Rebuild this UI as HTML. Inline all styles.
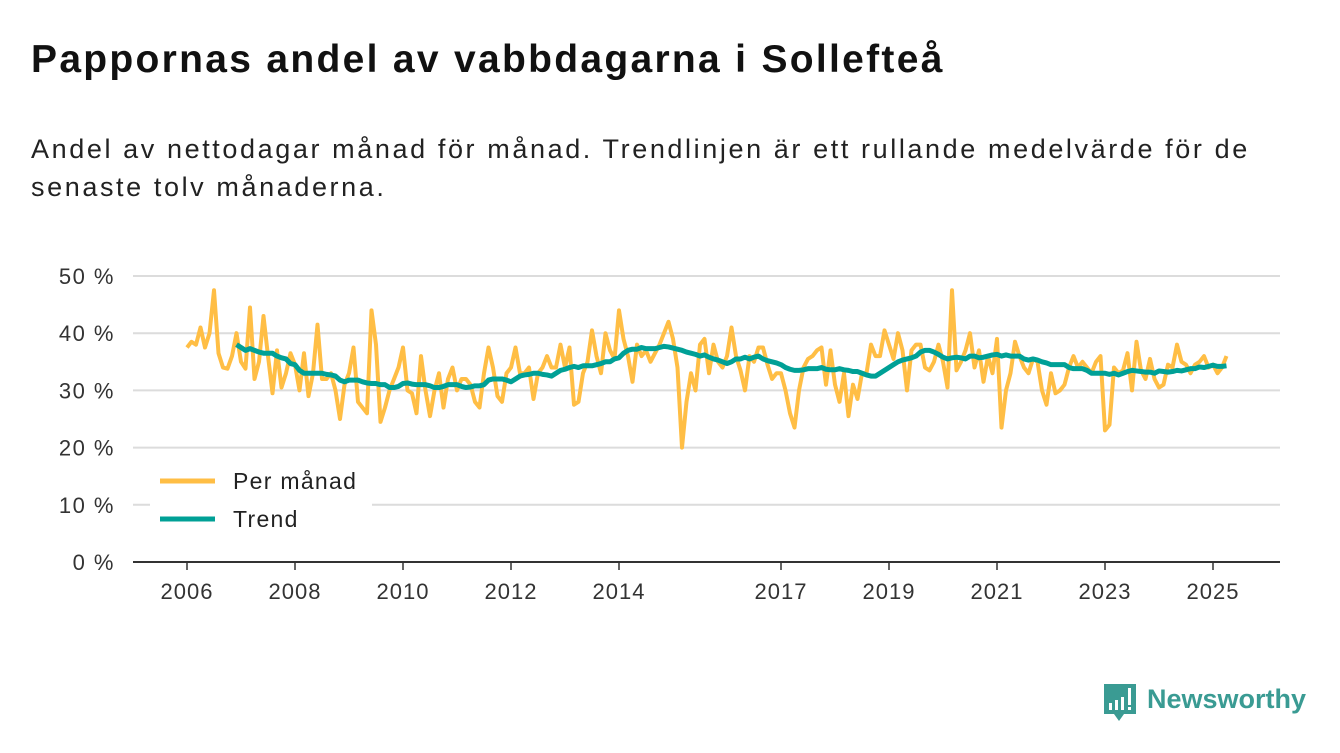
<!DOCTYPE html>
<html><head><meta charset="utf-8">
<style>
body{margin:0;width:1340px;height:753px;background:#fff;font-family:"Liberation Sans","DejaVu Sans",sans-serif;overflow:hidden;position:relative}
h1{position:absolute;left:31px;top:38px;margin:0;font-size:39px;letter-spacing:2.3px;font-weight:bold;color:#111;white-space:nowrap}
.sub{position:absolute;left:31px;top:130px;margin:0;font-size:27px;letter-spacing:2.6px;line-height:38px;color:#222;width:1260px}
svg{position:absolute;left:0;top:0}
</style></head><body>
<h1>Pappornas andel av vabbdagarna i Sollefteå</h1>
<p class="sub">Andel av nettodagar månad för månad. Trendlinjen är ett rullande medelvärde för de senaste tolv månaderna.</p>
<svg id="chart" width="1340" height="753"></svg>
<script>
const yTicks=[0,10,20,30,40,50];
const yTickLabels=["0 %","10 %","20 %","30 %","40 %","50 %"];
const xTickYears=[2006,2008,2010,2012,2014,2017,2019,2021,2023,2025];
const startYear=2006;
const monthly=[
37.5,38.5,38,41,37.5,40,47.5,36.5,34,33.8,36,40,
35,33.8,44.5,32,35,43,36,29.5,37,30.5,33,36.5,
34.5,30,36.5,29,33,41.5,32,32,33,30,25,31,
33,37.5,28,27,26,44,38,24.5,27,30,32,34,
37.5,30,29.5,26,36,30,25.5,30,33,27,32,34,
30,32,32,31,28,27,33,37.5,34,29,28,33,
34,37.5,33,33,34,28.5,33,34,36,34,34,38,
34,37.5,27.5,28,33,35,40.5,36,33,40,37,35.5,
44,39,36,31.5,38,36,37,35,36.5,38,40,42,
39,34,20,28,33,30,38,39,33,38,35,34,
36,41,36,33.5,30,36,35,37.5,37.5,34.5,32,33,
33,30,26,23.5,30,34,35.5,36,37,37.5,31,37,
31,28,33,25.5,31,28.5,33,33,38,36,36,40.5,
38,35.5,40,37,30,37,38,38,34,33.5,35,38,
35,30.5,47.5,33.5,35,37,40,34,37,31.5,36,33,
39,23.5,30,33,38.5,36,34,33,35.5,35,30,27.5,
33,29.5,30,31,34,36,34,35,34,33,35,36,
23,24,34,33,33.5,36.5,30,38.5,33.5,32,35.5,32,
30.5,31,34.5,34,38,35,34.5,33,34.5,35,36,34,
34.5,33,34,36];
const trendStartIndex=11;
const trend=[38,
37.5,37,37.3,37,36.7,36.5,36.5,36.5,36,35.7,35.5,34.7,
34.5,33.5,33,33,33,33,33,32.8,32.7,32.5,31.8,31.5,
31.8,31.8,31.8,31.5,31.3,31.2,31.2,31,31,30.5,30.5,30.7,
31.2,31.3,31.1,31,31,31,30.8,30.5,30.5,30.7,31,31,
31,30.7,30.5,30.6,30.8,30.8,31,31.8,32,32,32,31.8,
31.5,32,32.5,32.7,32.8,33,33,32.8,32.7,32.5,33,33.5,
33.7,34,34.2,34,34.3,34.3,34.3,34.5,34.7,35,35,35.5,
35.7,36.5,37,37.2,37.2,37.5,37.3,37.3,37.3,37.5,37.7,37.6,
37.4,37.2,37,36.7,36.5,36.3,36,36.2,35.8,35.5,35.3,35,
34.7,35,35.5,35.5,35.8,35.5,35.8,36,35.5,35.2,35,34.8,
34.5,34,33.7,33.5,33.5,33.6,33.8,33.8,33.8,34,33.7,33.6,
33.6,33.8,33.6,33.5,33.3,33.3,33,32.7,32.5,32.5,33,33.5,
34,34.5,35,35.3,35.5,35.7,36,36.7,37,37,36.7,36.3,
35.8,35.5,35.7,35.8,35.7,35.5,36,36,35.7,35.8,36,36.2,
36.3,36,36.2,36,36,36,35.5,35.3,35.5,35.3,35,34.8,
34.5,34.5,34.5,34.5,34,33.8,33.8,33.8,33.5,33,33,33,
33,32.8,33,32.7,33,33.3,33.5,33.4,33.3,33.2,33.2,33,
33.4,33.3,33.2,33.3,33.5,33.4,33.6,33.8,33.8,34.1,34,34.2,
34.4,34.2,34.2,34.3];

const NS="http://www.w3.org/2000/svg";
const svg=document.getElementById('chart');
const x=i=>187+i*4.5;
const xYear=yr=>x((yr-startYear)*12);
const y=v=>562-v*5.72;
function mk(t,a,p){const e=document.createElementNS(NS,t);for(const k in a)e.setAttribute(k,a[k]);(p||svg).appendChild(e);return e;}

yTicks.forEach((t,i)=>{
  if(t>0){const g=mk('line',{x1:133,x2:1280,y1:y(t),y2:y(t),stroke:'#dcdcdc','stroke-width':2});
  
  }
  const l=mk('text',{x:115,y:y(t)+8,'text-anchor':'end','font-size':22,'letter-spacing':1.5,fill:'#333'});
  l.textContent=yTickLabels[i];
  
  
});
const ax=mk('line',{x1:133,x2:1280,y1:562,y2:562,stroke:'#333','stroke-width':2});


xTickYears.forEach(yr=>{
  const tk=mk('line',{x1:xYear(yr),x2:xYear(yr),y1:562,y2:570,stroke:'#333','stroke-width':1.5});
  
  
  const l=mk('text',{x:xYear(yr),y:599,'text-anchor':'middle','font-size':22,'letter-spacing':1,fill:'#333'});
  l.textContent=yr;
  
  
});
const pm=mk('polyline',{points:monthly.map((v,i)=>x(i)+','+y(v)).join(' '),fill:'none',stroke:'#ffbe45','stroke-width':4,'stroke-linejoin':'round'});


const tr=mk('polyline',{points:trend.map((v,i)=>x(i+trendStartIndex)+','+y(v)).join(' '),fill:'none',stroke:'#00a096','stroke-width':5,'stroke-linejoin':'round'});



const lg=mk('g',{});


mk('rect',{x:150,y:462,width:222,height:76,fill:'#fff'},lg);
[['Per månad','#ffbe45',481],['Trend','#00a096',519]].forEach(([n,c,yy])=>{
  const e=mk('g',{},lg);
  
  
  mk('line',{x1:160,x2:215,y1:yy,y2:yy,stroke:c,'stroke-width':5},e);
  const t=mk('text',{x:233,y:yy+8,'font-size':23,'letter-spacing':1.3,fill:'#222'},e);t.textContent=n;
});

const logo=mk('g',{});


mk('path',{d:'M1104 684 h32 v30 h-12 l-5 7 l-5 -7 h-10 z',fill:'#3a9b93'},logo);
mk('rect',{x:1109,y:703,width:3,height:7,fill:'#fff'},logo);
mk('rect',{x:1115,y:700,width:3,height:10,fill:'#fff'},logo);
mk('rect',{x:1121,y:697,width:3,height:13,fill:'#fff'},logo);
mk('rect',{x:1128,y:688,width:3,height:17,fill:'#fff'},logo);
mk('rect',{x:1128,y:707,width:3,height:3,fill:'#fff'},logo);
const lt=mk('text',{x:1147,y:708,'font-size':27,'font-weight':'bold',fill:'#3a9b93'},logo);lt.textContent='Newsworthy';
</script>
</body></html>
